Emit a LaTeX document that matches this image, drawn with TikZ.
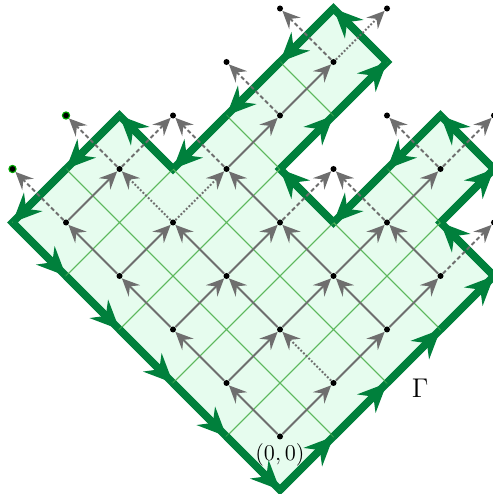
\documentclass[tikz,border=0pt]{standalone}
\usepackage{tikz}
\usetikzlibrary{arrows.meta,positioning}
\definecolor{cellFill}{HTML}{E6FCEE}
\definecolor{gridGreen}{HTML}{5CB85C}
\definecolor{gamGreen}{HTML}{00803C}
\definecolor{linkGray}{HTML}{6E6E6E}

\begin{document}
\begin{tikzpicture}[
        x={(1cm,1cm)}, y={(-1cm,1cm)},
        cellgrid/.style={draw=gridGreen, line width=0.5pt},
        gamline/.style={draw=gamGreen, line width=4pt, line join=miter},
        gam/.style={
            -{Stealth[length=5.4mm,width=4.8mm,inset=1.8mm]},
            line width=4pt,
            draw=gamGreen
        },
        latpt/.style={circle, fill=black, inner sep=0pt, minimum size=3.2pt},
        rimpt/.style={latpt, draw=green!65!black, line width=0.6pt, minimum size=3.8pt},
        link/.style={
            -{Stealth[length=3.3mm,width=3mm,inset=1.2mm]},
            line width=1pt,
            draw=linkGray
        },
        linkdash/.style={link, dash pattern=on 2.2pt off 1.4pt},
        linkdot/.style={link, dash pattern=on 1pt off 1pt}
    ]
    \useasboundingbox (-5.234cm,-0.075cm) rectangle (3.98cm,9.159cm);

    % region and its cells
    \filldraw[fill=cellFill, gamline] (0,0) -- (4,0) -- (4,1) -- (5,1) -- (5,2) -- (3,2) -- (3,3)
        -- (5,3) -- (5,4) -- (2,4) -- (2,5) -- (0,5) -- cycle;

    \foreach \a/\b in {0/0,0/1,0/2,0/3,0/4,1/0,1/1,1/2,1/3,1/4,2/0,2/1,2/2,2/3,3/0,3/1,3/3,4/1,4/3} {
        \draw[cellgrid] (\a,\b) -- ++(1,0) -- ++(0,1) -- ++(-1,0) -- cycle;
        \node[latpt] (p\a\b) at (\a+0.5,\b+0.5) {};
    }

    % points just outside
    \foreach \a/\b in {2/4,3/2,3/4,4/4,5/3,4/2,5/1,4/0}
        \node[latpt] (p\a\b) at (\a+0.5,\b+0.5) {};
    \node[rimpt] (p05) at (0.5,5.5) {};
    \node[rimpt] (p15) at (1.5,5.5) {};

    % boundary Gamma
    \foreach \a/\b/\c/\d in {0/0/1/0,1/0/2/0,2/0/3/0,3/0/4/0,4/0/4/1,4/1/5/1,5/1/5/2,5/2/4/2,
            4/2/3/2,3/2/3/3,3/3/4/3,4/3/5/3,5/3/5/4,5/4/4/4,4/4/3/4,3/4/2/4,2/4/2/5,2/5/1/5,
            1/5/0/5,0/5/0/4,0/4/0/3,0/3/0/2,0/2/0/1,0/1/0/0}
        \draw[gam] (\a,\b) -- (\c,\d);

    % links
    \foreach \s/\t in {00/10,00/01,01/11,01/02,02/12,02/03,03/13,03/04,04/14,10/20,11/21,11/12,
            12/22,12/13,20/30,20/21,21/31,21/22,22/23,23/33,30/31,31/41,33/43}
        \draw[link] (p\s) -- (p\t);
    \foreach \s/\t in {10/11,13/23,13/14,43/53}
        \draw[linkdot] (p\s) -- (p\t);
    \foreach \s/\t in {04/05,14/24,14/15,23/24,22/32,31/32,33/34,43/44,41/51,41/42,30/40}
        \draw[linkdash] (p\s) -- (p\t);

    \node[font=\large, inner sep=0pt, below=1.6pt of p00] (orig) {$(0,0)$};
    \node[font=\Large] (gamlabel) at (2.62cm,1.91cm) {$\Gamma$};
\end{tikzpicture}
\end{document}
